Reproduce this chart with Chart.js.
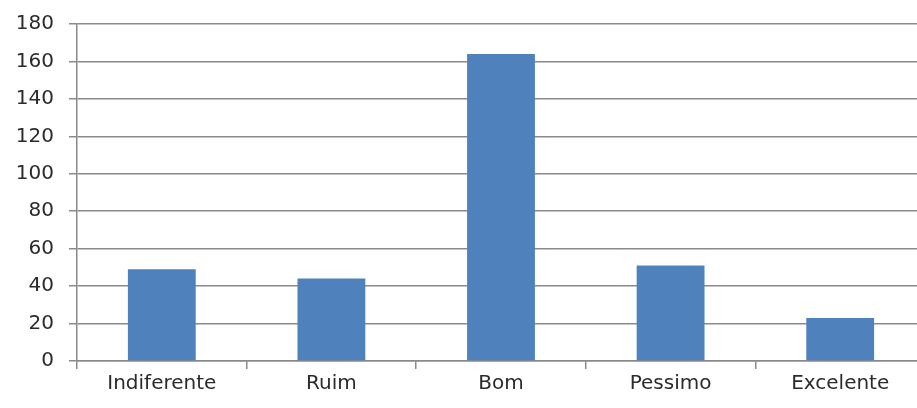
<!DOCTYPE html>
<html>
<head>
<meta charset="utf-8">
<script src="https://cdn.jsdelivr.net/npm/chart.js@4"></script>
<style>
    html, body { margin: 0; padding: 0; background: #fff; overflow: hidden; }
    #wrap { width: 917px; height: 408px; overflow: hidden; }
</style>
</head>
<body>
<div id="wrap"><canvas id="myChart" width="926" height="408"></canvas></div>
<script>
const categories = ['Indiferente', 'Ruim', 'Bom', 'Pessimo', 'Excelente'];
const values = [49, 44, 164, 51, 23];
const yTicks = [0, 20, 40, 60, 80, 100, 120, 140, 160, 180];

const gridColor = '#8a8a8a';
const textColor = '#2b2b2b';

const data = {
    labels: categories,
    datasets: [{
        data: values,
        backgroundColor: '#4F81BD',
        borderWidth: 0,
        categoryPercentage: 1.0,
        barPercentage: 0.4
    }]
};

const config = {
    type: 'bar',
    data: data,
    options: {
        responsive: false,
        animation: false,
        layout: {
            padding: { left: 12, right: 1, top: 24, bottom: 7 }
        },
        plugins: {
            legend: { display: false },
            tooltip: { enabled: false }
        },
        scales: {
            x: {
                offset: true,
                afterFit: function(scale) {
                    scale.height = 40;
                    scale.paddingLeft = 0;
                    scale.paddingRight = 0;
                },
                grid: {
                    offset: true,
                    drawOnChartArea: false,
                    drawTicks: true,
                    tickLength: 8,
                    color: gridColor,
                    lineWidth: 1.5
                },
                border: { display: true, color: gridColor, width: 1.5 },
                ticks: {
                    color: textColor,
                    padding: 3,
                    font: { family: 'DejaVu Sans', size: 20 }
                }
            },
            y: {
                min: 0,
                max: 180,
                afterBuildTicks: function(scale) {
                    scale.ticks = yTicks.map(v => ({ value: v }));
                },
                afterFit: function(scale) {
                    scale.width = 65;
                    scale.paddingTop = 0;
                    scale.paddingBottom = 0;
                },
                grid: {
                    drawTicks: true,
                    tickLength: 8,
                    color: gridColor,
                    lineWidth: 1.5
                },
                border: { display: true, color: gridColor, width: 1.5 },
                ticks: {
                    color: textColor,
                    padding: 15,
                    font: { family: 'DejaVu Sans', size: 20 }
                }
            }
        }
    }
};

const myChart = new Chart(document.getElementById('myChart'), config);
</script>
</body>
</html>
